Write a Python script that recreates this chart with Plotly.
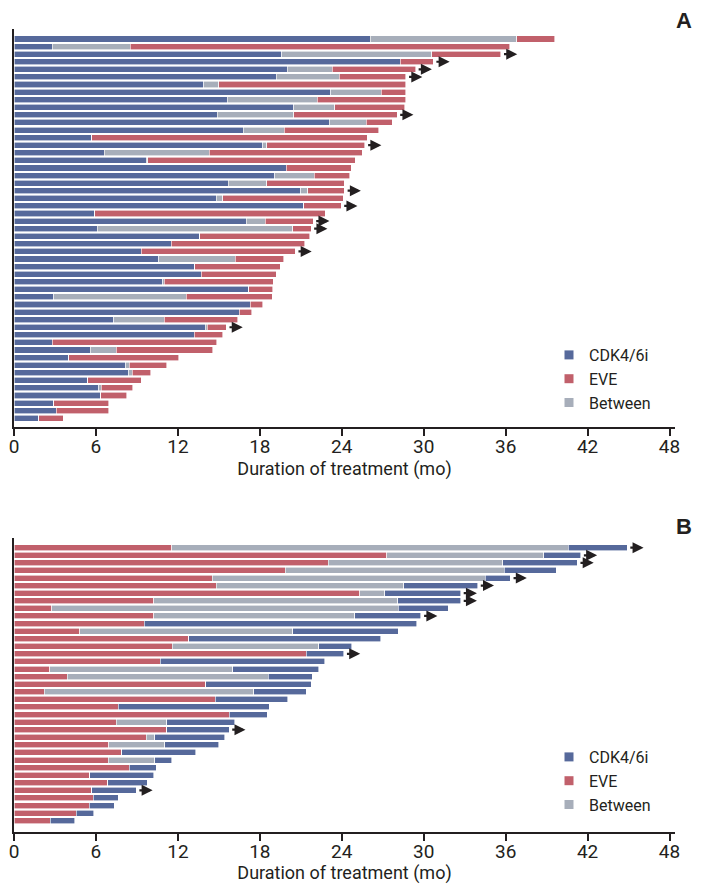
import plotly.graph_objects as go

# ---------------- Panel A (CDK4/6i -> Between -> EVE) ----------------
a_cdk_end = [26.1, 2.8, 19.6, 28.3, 20.0, 19.2, 13.9, 23.2, 15.6, 20.5,
             14.9, 23.1, 16.8, 5.7, 18.2, 6.6, 9.7, 19.95, 19.1, 15.7,
             21.0, 14.8, 21.2, 5.9, 17.0, 6.1, 13.6, 11.5, 9.3, 10.6,
             13.25, 13.7, 10.9, 17.2, 2.9, 17.3, 16.5, 7.3, 14.0, 13.2,
             2.8, 5.6, 4.0, 8.2, 8.4, 5.4, 6.2, 6.35, 2.9, 3.1, 1.8]
a_btw_end = [36.8, 8.5, 30.6, 28.3, 23.3, 23.8, 15.0, 26.9, 22.2, 23.5,
             20.5, 25.8, 19.8, 5.7, 18.5, 14.3, 9.8, 19.95, 22.0, 18.5,
             21.5, 15.3, 21.2, 5.9, 18.4, 20.4, 13.6, 11.5, 9.3, 16.2,
             13.25, 13.7, 11.0, 17.2, 12.6, 17.3, 16.5, 11.0, 14.15, 13.2,
             2.8, 7.5, 4.0, 8.45, 8.65, 5.4, 6.4, 6.35, 2.9, 3.1, 1.8]
a_total = [39.6, 36.3, 35.65, 30.7, 29.4, 28.7, 28.7, 28.7, 28.7, 28.6,
           28.05, 27.7, 26.7, 25.85, 25.7, 25.5, 25.0, 24.7, 24.6, 24.2,
           24.2, 24.1, 23.95, 22.8, 21.9, 21.75, 21.65, 21.3, 20.6, 19.75,
           19.5, 19.2, 19.0, 18.95, 18.9, 18.2, 17.4, 16.4, 15.55, 15.3,
           14.85, 14.55, 12.05, 11.2, 10.0, 9.3, 8.7, 8.25, 6.95, 6.95, 3.6]
a_ongoing = [0, 0, 1, 1, 1, 1, 0, 0, 0, 0,
             1, 0, 0, 0, 1, 0, 0, 0, 0, 0,
             1, 0, 1, 0, 1, 1, 0, 0, 1, 0,
             0, 0, 0, 0, 0, 0, 0, 0, 1, 0,
             0, 0, 0, 0, 0, 0, 0, 0, 0, 0, 0]

# ---------------- Panel B (EVE -> Between -> CDK4/6i) ----------------
b_eve_end = [11.55, 27.3, 23.0, 19.85, 14.5, 14.8, 25.3, 10.25, 2.75, 10.25,
             9.55, 4.8, 12.8, 11.6, 21.4, 10.7, 2.6, 3.9, 14.05, 2.2,
             14.75, 7.65, 15.75, 7.5, 11.2, 9.7, 6.95, 7.9, 6.9, 8.45,
             5.55, 6.85, 5.7, 5.8, 5.5, 4.55, 2.65]
b_btw_end = [40.6, 38.8, 35.8, 35.9, 34.5, 28.55, 27.15, 28.1, 28.15, 24.95,
             9.55, 20.4, 12.8, 22.3, 21.4, 10.7, 16.0, 18.6, 14.05, 17.55,
             14.75, 7.65, 15.75, 11.2, 11.2, 10.3, 11.05, 7.9, 10.3, 8.45,
             5.55, 6.85, 5.7, 5.8, 5.5, 4.55, 2.65]
b_total = [44.9, 41.5, 41.25, 39.7, 36.35, 33.95, 32.7, 32.7, 31.8, 29.8,
           29.5, 28.15, 26.85, 24.75, 24.15, 22.75, 22.3, 21.85, 21.75, 21.4,
           20.05, 18.7, 18.55, 16.15, 15.75, 15.45, 15.0, 13.3, 11.55, 10.4,
           10.25, 9.75, 8.95, 7.65, 7.35, 5.85, 4.45]
b_ongoing = [1, 1, 1, 0, 1, 1, 1, 1, 0, 1,
             0, 0, 0, 0, 1, 0, 0, 0, 0, 0,
             0, 0, 0, 0, 1, 0, 0, 0, 0, 0,
             0, 0, 1, 0, 0, 0, 0]

x_ticks = [0, 6, 12, 18, 24, 30, 36, 42, 48]
legend_labels = ["CDK4/6i", "EVE", "Between"]

C_CDK = "#56699B"
C_EVE = "#C1606B"
C_BTW = "#A7AEBA"
INK = "#231f20"
FONT = "Roboto, Liberation Sans, Arial, sans-serif"

# page body has an 8px margin: figure is sized so the page fills 702x892
OFF = 8
W, H = 702 - OFF, 892 - 2 * OFF

def px(xp):
    return (xp - OFF) / W

def py(yp):
    return 1 - (yp - OFF) / H

fig = go.Figure()
bar_line = dict(color="white", width=0.6)

# Panel A segments
ya = list(range(1, len(a_total) + 1))
a_seg_cdk = a_cdk_end
a_seg_btw = [b - c for b, c in zip(a_btw_end, a_cdk_end)]
a_seg_eve = [t - b for t, b in zip(a_total, a_btw_end)]
for seg, col, nm in [(a_seg_cdk, C_CDK, "CDK4/6i"), (a_seg_btw, C_BTW, "Between"),
                     (a_seg_eve, C_EVE, "EVE")]:
    fig.add_trace(go.Bar(y=ya, x=seg, orientation="h", marker=dict(color=col, line=bar_line),
                         name=nm, showlegend=False, xaxis="x", yaxis="y"))

# Panel B segments
yb = list(range(1, len(b_total) + 1))
b_seg_eve = b_eve_end
b_seg_btw = [b - e for b, e in zip(b_btw_end, b_eve_end)]
b_seg_cdk = [t - b for t, b in zip(b_total, b_btw_end)]
for seg, col, nm in [(b_seg_eve, C_EVE, "EVE"), (b_seg_btw, C_BTW, "Between"),
                     (b_seg_cdk, C_CDK, "CDK4/6i")]:
    fig.add_trace(go.Bar(y=yb, x=seg, orientation="h", marker=dict(color=col, line=bar_line),
                         name=nm, showlegend=False, xaxis="x2", yaxis="y2"))

# Legend entries (small square markers)
colors = {"CDK4/6i": C_CDK, "EVE": C_EVE, "Between": C_BTW}
for lg, xa, yax in [("legend", "x", "y"), ("legend2", "x2", "y2")]:
    for lab in legend_labels:
        fig.add_trace(go.Scatter(x=[None], y=[None], mode="markers", name=lab,
                                 marker=dict(symbol="square", size=9, color=colors[lab]),
                                 legend=lg, xaxis=xa, yaxis=yax, showlegend=True))

# Ongoing arrows
ann = []
for xr, yr, totals, flags, ys in [("x", "y", a_total, a_ongoing, ya),
                                  ("x2", "y2", b_total, b_ongoing, yb)]:
    for t, f, yy in zip(totals, flags, ys):
        if f:
            ann.append(dict(x=t + 1.2, y=yy, ax=t + 0.12, ay=yy, xref=xr, yref=yr,
                            axref=xr, ayref=yr, text="", showarrow=True,
                            arrowhead=2, arrowsize=1.0, arrowwidth=2.2,
                            arrowcolor=INK, standoff=0, startstandoff=0))

# Panel letters
for letter, yp in [("A", 20), ("B", 526)]:
    ann.append(dict(x=px(684), y=py(yp), xref="paper", yref="paper",
                    xanchor="center", yanchor="middle",
                    text="<b>%s</b>" % letter, showarrow=False,
                    font=dict(family="Liberation Sans, Arial, sans-serif", size=22, color=INK)))

xdom = [px(14), px(675)]
xrng = [0, (675 - 14.5) / 13.646]

def xaxis_cfg(anchor):
    return dict(domain=xdom, range=xrng, anchor=anchor, tickvals=x_ticks,
                ticktext=[str(v) for v in x_ticks], ticks="outside", ticklen=7,
                tickwidth=2, tickcolor=INK, showline=True, linecolor=INK,
                linewidth=2, showgrid=False, zeroline=False, automargin=False,
                ticklabelstandoff=-6,
                tickfont=dict(family=FONT, size=19, color=INK),
                title=dict(text="Duration of treatment (mo)", standoff=6,
                           font=dict(family=FONT, size=18, color=INK)))

def yaxis_cfg(anchor, dom, rng):
    return dict(domain=dom, range=rng, anchor=anchor, showline=True,
                linecolor=INK, linewidth=2, showticklabels=False, ticks="",
                showgrid=False, zeroline=False, automargin=False)

legend_common = dict(font=dict(family=FONT, size=16, color=INK),
                     bgcolor="rgba(0,0,0,0)", xanchor="left", yanchor="top",
                     itemsizing="trace", tracegroupgap=0, traceorder="normal")

fig.update_layout(
    template="none",
    width=W, height=H, margin=dict(l=0, r=0, t=0, b=0, autoexpand=False),
    paper_bgcolor="white", plot_bgcolor="white",
    barmode="stack", bargap=0.2,
    xaxis=xaxis_cfg("y"),
    yaxis=yaxis_cfg("x", [py(427), py(29)], [52.15, -0.32]),
    xaxis2=xaxis_cfg("y2"),
    yaxis2=yaxis_cfg("x2", [py(832), py(538)], [38.49, -0.28]),
    legend=dict(x=px(549), y=py(338), **legend_common),
    legend2=dict(x=px(549), y=py(740), **legend_common),
    annotations=ann,
    font=dict(family=FONT, color=INK),
)

fig.write_html("out.html")
